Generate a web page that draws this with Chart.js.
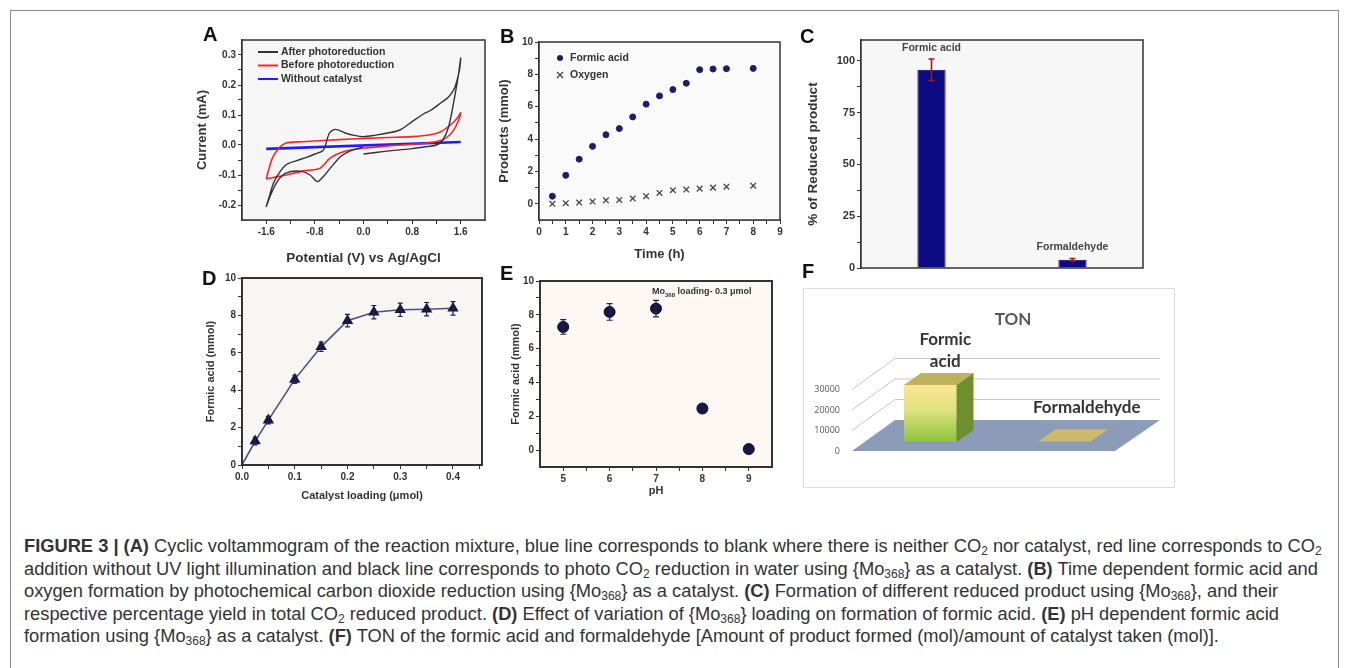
<!DOCTYPE html>
<html lang="en">
<head>
<meta charset="UTF-8">
<title>Figure 3 - photochemical CO2 reduction</title>
<script src="https://cdn.jsdelivr.net/npm/chart.js"></script>
<style>
    body {
        margin: 0;
        width: 1349px;
        height: 668px;
        overflow: hidden;
        background: #fff;
        position: relative;
        font-family: "Liberation Sans", Arial, sans-serif;
    }
    #frame {
        position: absolute;
        left: 10px; top: 10px;
        width: 1327px; height: 720px;
        border: 1px solid #8a8a8a;
    }
    canvas { position: absolute; }
    .tag {
        position: absolute;
        font: bold 20px "Liberation Sans", Arial, sans-serif;
        line-height: 20px;
        color: #111;
        z-index: 2;
    }
    #tonBox {
        position: absolute;
        left: 803px; top: 288px;
        width: 372px; height: 200px;
        border: 1px solid #dcdcdc;
        box-sizing: border-box;
        background: #fff;
    }
    #tonBox canvas { left: 0; top: 0; }
    #caption {
        position: absolute;
        left: 24px; top: 535px;
        font-size: 18.3px;
        line-height: 22.6px;
        color: #333;
        white-space: nowrap;
    }
    #caption sub { font-size: 12px; vertical-align: -3px; line-height: 0; }
</style>
</head>
<body>
<div id="frame"></div>

<canvas id="cvChart" width="310" height="245" style="left:190px; top:25px;"></canvas>
<canvas id="timeChart" width="300" height="245" style="left:495px; top:25px;"></canvas>
<canvas id="pctChart" width="360" height="258" style="left:795px; top:25px;"></canvas>
<canvas id="loadChart" width="305" height="245" style="left:190px; top:262px;"></canvas>
<canvas id="phChart" width="292" height="240" style="left:495px; top:262px;"></canvas>
<div id="tonBox"><canvas id="tonChart" width="370" height="198"></canvas></div>

<div class="tag" style="left:203px; top:24px;">A</div>
<div class="tag" style="left:500px; top:26px;">B</div>
<div class="tag" style="left:800px; top:26px;">C</div>
<div class="tag" style="left:202px; top:268px;">D</div>
<div class="tag" style="left:500px; top:263px;">E</div>
<div class="tag" style="left:802px; top:261px;">F</div>

<div id="caption">
<b>FIGURE 3 | (A)</b> Cyclic voltammogram of the reaction mixture, blue line corresponds to blank where there is neither CO<sub>2</sub> nor catalyst, red line corresponds to CO<sub>2</sub><br>
addition without UV light illumination and black line corresponds to photo CO<sub>2</sub> reduction in water using {Mo<sub>368</sub>} as a catalyst. <b>(B)</b> Time dependent formic acid and<br>
oxygen formation by photochemical carbon dioxide reduction using {Mo<sub>368</sub>} as a catalyst. <b>(C)</b> Formation of different reduced product using {Mo<sub>368</sub>}, and their<br>
respective percentage yield in total CO<sub>2</sub> reduced product. <b>(D)</b> Effect of variation of {Mo<sub>368</sub>} loading on formation of formic acid. <b>(E)</b> pH dependent formic acid<br>
formation using {Mo<sub>368</sub>} as a catalyst. <b>(F)</b> TON of the formic acid and formaldehyde [Amount of product formed (mol)/amount of catalyst taken (mol)].
</div>

<script>
    /***************************
            DATA
    ***************************/

    // (A) cyclic voltammograms: potential (V vs Ag/AgCl) and current (mA), in scan order
    const afterV = [0.0, 0.2, 0.5, 0.8, 1.05, 1.2, 1.3, 1.4, 1.5, 1.56, 1.6,
                    1.58, 1.5, 1.4, 1.27, 1.1, 1.0, 0.8, 0.6, 0.4, 0.2, 0.0, -0.15, -0.3, -0.46, -0.56, -0.66, -0.8, -0.95, -1.1, -1.28, -1.47, -1.56, -1.6,
                    -1.53, -1.42, -1.28, -1.05, -0.88, -0.76, -0.66, -0.55, -0.38, -0.2, 0.0];
    const afterI = [-0.03, -0.025, -0.018, -0.012, -0.005, 0.0, 0.015, 0.06, 0.16, 0.23, 0.29,
                    0.25, 0.19, 0.16, 0.14, 0.115, 0.105, 0.078, 0.05, 0.04, 0.033, 0.028, 0.032, 0.04, 0.052, 0.04, -0.017, -0.03, -0.042, -0.052, -0.067, -0.122, -0.178, -0.205,
                    -0.167, -0.122, -0.094, -0.087, -0.1, -0.122, -0.105, -0.078, -0.039, -0.018, -0.006];

    const beforeV = [-1.6, -1.55, -1.5, -1.4, -1.28, -1.0, -0.6, -0.2, 0.0, 0.4, 0.8, 1.1, 1.27, 1.45, 1.55, 1.6,
                     1.55, 1.48, 1.4, 1.3, 1.02, 0.45, 0.0, -0.32, -0.55, -0.72, -1.0, -1.28, -1.45, -1.6];
    const beforeI = [-0.113, -0.075, -0.044, -0.012, 0.006, 0.011, 0.016, 0.02, 0.022, 0.025, 0.028, 0.034, 0.044, 0.07, 0.092, 0.107,
                     0.075, 0.048, 0.03, 0.017, 0.006, -0.002, -0.011, -0.022, -0.044, -0.078, -0.087, -0.1, -0.107, -0.113];

    const blankV = [-1.6, 1.6];
    const blankI = [-0.013, 0.010];

    // (B) products vs irradiation time
    const timeH = [0.5, 1, 1.5, 2, 2.5, 3, 3.5, 4, 4.5, 5, 5.5, 6, 6.5, 7, 8];
    const formicMmol = [0.47, 1.76, 2.76, 3.55, 4.27, 4.65, 5.37, 6.16, 6.67, 7.06, 7.45, 8.29, 8.33, 8.35, 8.37];
    const oxygenMmol = [0.0, 0.04, 0.08, 0.14, 0.22, 0.24, 0.33, 0.47, 0.67, 0.84, 0.88, 0.94, 1.0, 1.06, 1.12];

    // (C) share of reduced products
    const productNames = ['Formic acid', 'Formaldehyde'];
    const productPct = [95.6, 4.0];
    const productErr = [5.2, 0.6];

    // (D) catalyst loading series
    const loadingUmol = [0, 0.025, 0.05, 0.1, 0.15, 0.2, 0.25, 0.3, 0.35, 0.4];
    const formicByLoad = [0, 1.28, 2.4, 4.58, 6.32, 7.72, 8.17, 8.3, 8.33, 8.38];
    const formicByLoadErr = [0, 0.2, 0.2, 0.22, 0.25, 0.33, 0.36, 0.36, 0.36, 0.36];

    // (E) pH series
    const phValues = [5, 6, 7, 8, 9];
    const formicByPh = [7.28, 8.17, 8.37, 2.46, 0.06];
    const formicByPhErr = [0.43, 0.49, 0.49, 0, 0];

    // (F) turnover numbers
    const tonNames = ['Formic acid', 'Formaldehyde'];
    const tonValues = [27800, 400];
    const tonTicks = [0, 10000, 20000, 30000];


    /***************************
            HELPERS
    ***************************/

    Chart.defaults.font.family = '"Liberation Sans", Arial, sans-serif';
    Chart.defaults.color = '#333';
    Chart.defaults.animation = false;
    Chart.defaults.responsive = false;
    Chart.defaults.devicePixelRatio = 1;
    Chart.defaults.plugins.legend.display = false;
    Chart.defaults.plugins.tooltip.enabled = false;

    function zip(xs, ys) {
        return xs.map((x, i) => ({ x: x, y: ys[i] }));
    }

    // builds an Origin style axis: box line, outward ticks, minor ticks without label
    function originAxis(o) {
        const isMajor = v => Math.abs(v / o.major - Math.round(v / o.major)) < 1e-6;
        return {
            type: 'linear',
            min: o.min,
            max: o.max,
            afterBuildTicks(scale) {
                const list = [];
                const n = Math.round((o.to - o.from) / o.minor);
                for (let i = 0; i <= n; i++) list.push({ value: +(o.from + i * o.minor).toFixed(6) });
                scale.ticks = list;
            },
            afterFit(scale) {
                if (o.width) scale.width = o.width;
                if (o.height) scale.height = o.height;
            },
            ticks: {
                autoSkip: false,
                maxRotation: 0,
                padding: 2,
                color: '#333',
                font: { size: o.tickSize || 10, weight: 'bold' },
                callback: v => isMajor(v) ? o.fmt(v) : ''
            },
            grid: { drawOnChartArea: false, drawTicks: true, tickLength: 4, color: '#333', lineWidth: 1 },
            border: { display: true, color: '#333', width: o.lineWidth || 1.5 },
            title: {
                display: true,
                text: o.title,
                color: '#333',
                font: { size: o.titleSize || 13, weight: 'bold' },
                padding: o.titlePad || { top: 2, bottom: 4 }
            }
        };
    }

    // chart area fill and box frame
    const framePlugin = {
        id: 'frame',
        beforeDatasetsDraw(chart, args, opts) {
            const a = chart.chartArea;
            if (opts.fill) {
                chart.ctx.save();
                chart.ctx.fillStyle = opts.fill;
                chart.ctx.fillRect(a.left, a.top, a.right - a.left, a.bottom - a.top);
                chart.ctx.restore();
            }
        },
        afterDraw(chart, args, opts) {
            const a = chart.chartArea;
            const ctx = chart.ctx;
            ctx.save();
            ctx.strokeStyle = opts.color || '#333';
            ctx.lineWidth = opts.width || 1.5;
            ctx.strokeRect(a.left, a.top, a.right - a.left, a.bottom - a.top);
            ctx.restore();
        }
    };

    // vertical error bars read from the dataset values
    const errorBarPlugin = {
        id: 'errorBars',
        afterDatasetsDraw(chart, args, opts) {
            if (!opts.errors) return;
            const ctx = chart.ctx;
            const idx = opts.dataset || 0;
            const ds = chart.data.datasets[idx];
            const meta = chart.getDatasetMeta(idx);
            const y = chart.scales.y;
            const cap = opts.cap || 3;
            ctx.save();
            ctx.strokeStyle = opts.color || '#222';
            ctx.lineWidth = opts.width || 1.2;
            meta.data.forEach((el, i) => {
                const e = opts.errors[i];
                if (!e) return;
                const v = typeof ds.data[i] === 'object' ? ds.data[i].y : ds.data[i];
                const y1 = y.getPixelForValue(v + e);
                const y2 = y.getPixelForValue(v - e);
                ctx.beginPath();
                ctx.moveTo(el.x, y1); ctx.lineTo(el.x, y2);
                ctx.moveTo(el.x - cap, y1); ctx.lineTo(el.x + cap, y1);
                ctx.moveTo(el.x - cap, y2); ctx.lineTo(el.x + cap, y2);
                ctx.stroke();
            });
            ctx.restore();
        }
    };

    // legend drawn inside the plot, top left
    const innerLegendPlugin = {
        id: 'innerLegend',
        afterDraw(chart, args, opts) {
            if (!opts.show) return;
            const ctx = chart.ctx;
            const a = chart.chartArea;
            ctx.save();
            ctx.font = 'bold 10.5px "Liberation Sans", Arial, sans-serif';
            ctx.textBaseline = 'middle';
            chart.data.datasets.forEach((ds, i) => {
                const yy = a.top + opts.top + i * opts.row;
                const xx = a.left + opts.left;
                if (ds.showLine) {
                    ctx.strokeStyle = ds.borderColor;
                    ctx.lineWidth = 2;
                    ctx.beginPath();
                    ctx.moveTo(xx, yy); ctx.lineTo(xx + opts.sample, yy);
                    ctx.stroke();
                } else {
                    ctx.fillStyle = ds.backgroundColor;
                    ctx.strokeStyle = ds.borderColor;
                    ctx.beginPath();
                    if (ds.pointStyle === 'circle') {
                        ctx.arc(xx + opts.sample / 2, yy, ds.pointRadius, 0, Math.PI * 2);
                        ctx.fill();
                    } else {
                        const r = ds.pointRadius * 0.75, cx = xx + opts.sample / 2;
                        ctx.lineWidth = ds.borderWidth;
                        ctx.moveTo(cx - r, yy - r); ctx.lineTo(cx + r, yy + r);
                        ctx.moveTo(cx - r, yy + r); ctx.lineTo(cx + r, yy - r);
                        ctx.stroke();
                    }
                }
                ctx.fillStyle = '#333';
                ctx.fillText(ds.label, xx + opts.sample + 3, yy);
            });
            ctx.restore();
        }
    };

    Chart.register(framePlugin, errorBarPlugin, innerLegendPlugin);

    const fmt1 = v => v.toFixed(1);
    const fmt0 = v => String(Math.round(v));


    /***************************
        (A) CYCLIC VOLTAMMOGRAM
    ***************************/
    new Chart(document.getElementById('cvChart'), {
        type: 'scatter',
        data: {
            datasets: [
                { label: 'After photoreduction', data: zip(afterV, afterI), showLine: true, borderColor: '#333', borderWidth: 1.4, pointRadius: 0, tension: 0.3 },
                { label: 'Before photoreduction', data: zip(beforeV, beforeI), showLine: true, borderColor: '#ff2222', borderWidth: 1.6, pointRadius: 0, tension: 0.3 },
                { label: 'Without catalyst', data: zip(blankV, blankI), showLine: true, borderColor: '#1c1cff', borderWidth: 2.6, pointRadius: 0 }
            ]
        },
        options: {
            layout: { padding: { top: 15, right: 15, left: 0, bottom: 0 } },
            scales: {
                x: originAxis({ min: -2, max: 2, from: -1.6, to: 1.6, minor: 0.4, major: 0.8, fmt: fmt1, title: 'Potential (V) vs Ag/AgCl', height: 50, titleSize: 13.5 }),
                y: originAxis({ min: -0.25, max: 0.35, from: -0.2, to: 0.3, minor: 0.05, major: 0.1, fmt: fmt1, title: 'Current (mA)', width: 52, titlePad: { top: 5, bottom: 4 } })
            },
            plugins: {
                frame: { fill: '#f6f6f6' },
                innerLegend: { show: true, left: 16, top: 12, row: 13.5, sample: 20 }
            }
        }
    });


    /***************************
        (B) PRODUCTS VS TIME
    ***************************/
    new Chart(document.getElementById('timeChart'), {
        type: 'scatter',
        data: {
            datasets: [
                { label: 'Formic acid', data: zip(timeH, formicMmol), pointStyle: 'circle', pointRadius: 3, backgroundColor: '#1d1d6e', borderColor: '#1d1d6e', borderWidth: 1 },
                { label: 'Oxygen', data: zip(timeH, oxygenMmol), pointStyle: 'crossRot', pointRadius: 4, backgroundColor: '#444', borderColor: '#444', borderWidth: 1.3 }
            ]
        },
        options: {
            layout: { padding: { top: 17, right: 15, left: 0, bottom: 0 } },
            scales: {
                x: originAxis({ min: 0, max: 9, from: 0, to: 9, minor: 0.5, major: 1, fmt: fmt0, title: 'Time (h)', height: 50, titlePad: { top: 2, bottom: 8 } }),
                y: originAxis({ min: -1, max: 10, from: 0, to: 10, minor: 1, major: 2, fmt: fmt0, title: 'Products (mmol)', width: 44 })
            },
            plugins: {
                frame: { fill: '#fafafa' },
                innerLegend: { show: true, left: 14, top: 16, row: 17, sample: 14 }
            }
        }
    });


    /***************************
        (C) REDUCED PRODUCT SHARE
    ***************************/
    const pctLabelPlugin = {
        id: 'pctLabels',
        afterDraw(chart) {
            const ctx = chart.ctx;
            const y = chart.scales.y;
            const meta = chart.getDatasetMeta(0);
            ctx.save();
            ctx.font = 'bold 10.5px "Liberation Sans", Arial, sans-serif';
            ctx.fillStyle = '#444';
            ctx.textAlign = 'center';
            ctx.textBaseline = 'middle';
            meta.data.forEach((bar, i) => {
                ctx.fillText(chart.data.labels[i], bar.x, y.getPixelForValue(productPct[i] + productErr[i]) - 11);
            });
            ctx.restore();
        }
    };

    new Chart(document.getElementById('pctChart'), {
        type: 'bar',
        data: {
            labels: productNames,
            datasets: [{ data: productPct, backgroundColor: '#0b0b82', borderColor: '#060650', borderWidth: 1, categoryPercentage: 1, barPercentage: 0.2 }]
        },
        options: {
            layout: { padding: { top: 15, right: 12, left: 0, bottom: 15 } },
            scales: {
                x: { display: false },
                y: originAxis({ min: 0, max: 110, from: 0, to: 100, minor: 12.5, major: 25, fmt: fmt0, title: '% of Reduced product', width: 66, tickSize: 11, titleSize: 13.5, titlePad: { top: 10, bottom: 4 } })
            },
            plugins: {
                frame: { fill: '#f7f7f7' },
                errorBars: { errors: productErr, color: '#9b1b1b', width: 1.6, cap: 3 }
            }
        },
        plugins: [pctLabelPlugin]
    });


    /***************************
        (D) CATALYST LOADING
    ***************************/
    new Chart(document.getElementById('loadChart'), {
        type: 'scatter',
        data: {
            datasets: [{
                data: zip(loadingUmol, formicByLoad),
                showLine: true,
                borderColor: '#505080',
                borderWidth: 1.6,
                pointStyle: 'triangle',
                pointRadius: loadingUmol.map(v => v === 0 ? 0 : 5),
                backgroundColor: '#16164a',
                pointBorderColor: '#16164a'
            }]
        },
        options: {
            layout: { padding: { top: 16, right: 13, left: 0, bottom: 0 } },
            scales: {
                x: originAxis({ min: 0, max: 0.455, from: 0, to: 0.45, minor: 0.05, major: 0.1, fmt: fmt1, title: 'Catalyst loading (\u03bcmol)', height: 42, tickSize: 10, titleSize: 11, lineWidth: 2 }),
                y: originAxis({ min: 0, max: 10, from: 0, to: 10, minor: 1, major: 2, fmt: fmt0, title: 'Formic acid (mmol)', width: 52, tickSize: 10, titleSize: 11, lineWidth: 2, titlePad: { top: 14, bottom: 4 } })
            },
            plugins: {
                frame: { fill: '#f8f6f3', width: 2 },
                errorBars: { errors: formicByLoadErr, color: '#222244', width: 1.2, cap: 2.5 }
            }
        }
    });


    /***************************
        (E) pH DEPENDENCE
    ***************************/
    const phNotePlugin = {
        id: 'phNote',
        afterDraw(chart) {
            const ctx = chart.ctx;
            const a = chart.chartArea;
            ctx.save();
            ctx.fillStyle = '#333';
            ctx.textBaseline = 'middle';
            const x0 = a.right - 120, y0 = a.top + 11;
            ctx.font = 'bold 9px "Liberation Sans", Arial, sans-serif';
            ctx.fillText('Mo', x0, y0);
            const w = ctx.measureText('Mo').width;
            ctx.font = 'bold 6px "Liberation Sans", Arial, sans-serif';
            ctx.fillText('368', x0 + w, y0 + 3);
            const w2 = ctx.measureText('368').width;
            ctx.font = 'bold 9px "Liberation Sans", Arial, sans-serif';
            ctx.fillText(' loading- 0.3 \u03bcmol', x0 + w + w2, y0);
            ctx.restore();
        }
    };

    new Chart(document.getElementById('phChart'), {
        type: 'scatter',
        data: {
            datasets: [{
                data: zip(phValues, formicByPh),
                pointStyle: 'circle',
                pointRadius: 5.5,
                backgroundColor: '#171744',
                borderColor: '#0d0d2a',
                borderWidth: 1
            }]
        },
        options: {
            layout: { padding: { top: 19, right: 15, left: 0, bottom: 0 } },
            scales: {
                x: originAxis({ min: 4.5, max: 9.5, from: 5, to: 9, minor: 0.5, major: 1, fmt: fmt0, title: 'pH', height: 35, tickSize: 10, titleSize: 11, lineWidth: 2, titlePad: { top: 0, bottom: 4 } }),
                y: originAxis({ min: -1, max: 10, from: 0, to: 10, minor: 1, major: 2, fmt: fmt0, title: 'Formic acid (mmol)', width: 45, tickSize: 10, titleSize: 11, lineWidth: 2, titlePad: { top: 14, bottom: 4 } })
            },
            plugins: {
                frame: { fill: '#fdf8f4', width: 2 },
                errorBars: { errors: formicByPhErr, color: '#222244', width: 1.2, cap: 3 }
            }
        },
        plugins: [phNotePlugin]
    });


    /***************************
        (F) TON, 3D STYLE BARS
    ***************************/
    const tonPlugin = {
        id: 'ton3d',
        beforeDatasetsDraw(chart) {
            const ctx = chart.ctx;
            const a = chart.chartArea;
            const y = chart.scales.y;
            const base = y.getPixelForValue(0);
            ctx.save();
            // floor of the box
            ctx.fillStyle = '#8c9bb7';
            ctx.beginPath();
            ctx.moveTo(a.left - 11, base + 9);
            ctx.lineTo(a.right - 17, base + 9);
            ctx.lineTo(a.right + 28, base - 22);
            ctx.lineTo(a.left + 32, base - 22);
            ctx.closePath();
            ctx.fill();
            // walls grid and value labels
            ctx.strokeStyle = '#c6c6c6';
            ctx.lineWidth = 1;
            ctx.font = '9px "Open Sans", "Liberation Sans", sans-serif';
            ctx.fillStyle = '#555';
            ctx.textAlign = 'right';
            ctx.textBaseline = 'middle';
            tonTicks.forEach(v => {
                const yy = y.getPixelForValue(v);
                if (v > 0) {
                    ctx.beginPath();
                    ctx.moveTo(a.left - 11, yy + 9);
                    ctx.lineTo(a.left + 32, yy - 22);
                    ctx.lineTo(a.right + 28, yy - 22);
                    ctx.stroke();
                }
                ctx.fillText(String(v), a.left - 23, yy + 9);
            });
            // title
            ctx.font = 'bold 17px Lato, "Open Sans", sans-serif';
            ctx.fillStyle = '#595959';
            ctx.textAlign = 'center';
            ctx.fillText('TON', a.left + 150, a.top - 40);
            ctx.restore();
        },
        afterDatasetsDraw(chart) {
            const ctx = chart.ctx;
            const meta = chart.getDatasetMeta(0);
            ctx.save();
            meta.data.forEach((bar, i) => {
                const x0 = bar.x - bar.width / 2, x1 = bar.x + bar.width / 2;
                const top = bar.y, b = bar.base;
                // top face
                ctx.fillStyle = i === 0 ? '#bfb25a' : '#cfb96a';
                ctx.beginPath();
                ctx.moveTo(x0, top); ctx.lineTo(x1, top);
                ctx.lineTo(x1 + 17, top - 12); ctx.lineTo(x0 + 17, top - 12);
                ctx.closePath(); ctx.fill();
                // right side face
                if (b - top > 1) {
                    ctx.fillStyle = '#6f8f2c';
                    ctx.beginPath();
                    ctx.moveTo(x1, top); ctx.lineTo(x1 + 17, top - 12);
                    ctx.lineTo(x1 + 17, b - 12); ctx.lineTo(x1, b);
                    ctx.closePath(); ctx.fill();
                }
                // data labels
                ctx.fillStyle = '#333';
                ctx.textAlign = 'center';
                ctx.textBaseline = 'middle';
                ctx.font = 'bold 17px Lato, "Open Sans", sans-serif';
                if (i === 0) {
                    ctx.fillText('Formic', bar.x + 15, top - 45);
                    ctx.fillText('acid', bar.x + 15, top - 23);
                } else {
                    ctx.fillText(chart.data.labels[i], bar.x + 22, top - 34);
                }
            });
            ctx.restore();
        }
    };

    new Chart(document.getElementById('tonChart'), {
        type: 'bar',
        data: {
            labels: tonNames,
            datasets: [{
                data: tonValues,
                categoryPercentage: 1,
                barPercentage: 0.39,
                backgroundColor(c) {
                    const chart = c.chart;
                    const a = chart.chartArea;
                    if (!a) return '#d6e07c';
                    const g = chart.ctx.createLinearGradient(0, chart.scales.y.getPixelForValue(28000), 0, a.bottom);
                    g.addColorStop(0, '#fbe596');
                    g.addColorStop(0.45, '#dfe27f');
                    g.addColorStop(1, '#8cc43c');
                    return g;
                }
            }]
        },
        options: {
            layout: { padding: { top: 71, right: 42, left: 59, bottom: 45 } },
            scales: {
                x: { display: false },
                y: { display: false, min: 0, max: 40000 }
            },
            plugins: { frame: false }
        },
        plugins: [tonPlugin]
    });
</script>
</body>
</html>
